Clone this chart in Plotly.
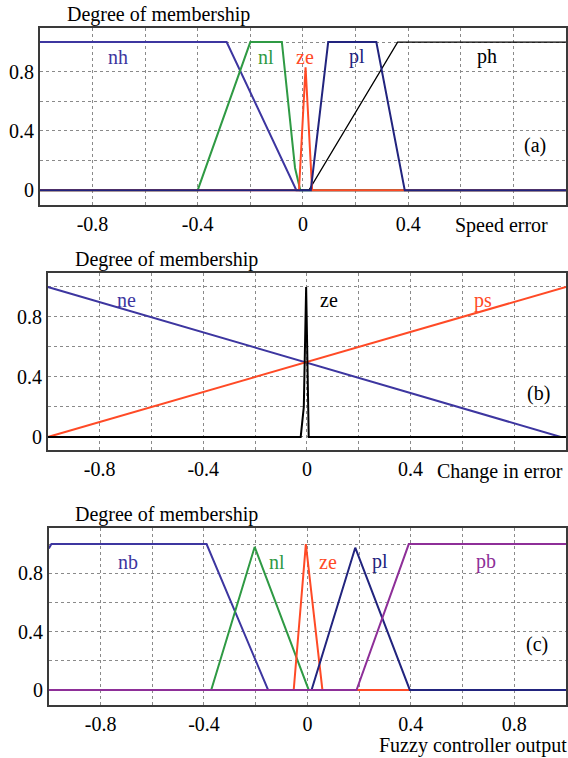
import plotly.graph_objects as go

# ---- (a) Speed error membership functions ----
a_nh_x = [-1.0, -0.29, -0.025, 1.0]
a_nh_y = [1.0, 1.0, 0.0, 0.0]
a_nl_x = [-1.0, -0.4, -0.2, -0.08, -0.03, -0.01, 1.0]
a_nl_y = [0.0, 0.0, 1.0, 1.0, 0.15, 0.0, 0.0]
a_ph_x = [-1.0, 0.023, 0.36, 1.0]
a_ph_y = [0.0, 0.0, 1.0, 1.0]
a_ze_x = [-1.0, -0.015, 0.01, 0.035, 1.0]
a_ze_y = [0.0, 0.0, 0.83, 0.0, 0.0]
a_pl_x = [-1.0, 0.03, 0.096, 0.279, 0.387, 1.0]
a_pl_y = [0.0, 0.0, 1.0, 1.0, 0.0, 0.0]

# ---- (b) Change in error membership functions ----
b_ne_x = [-1.0, 0.98, 1.0]
b_ne_y = [1.0, 0.0, 0.0]
b_ps_x = [-1.0, 1.0]
b_ps_y = [0.0, 1.0]
b_ze_x = [-1.0, -0.024, -0.012, -0.003, 0.007, 1.0]
b_ze_y = [0.0, 0.0, 0.2, 1.0, 0.0, 0.0]

# ---- (c) Fuzzy controller output membership functions ----
c_nb_x = [-1.0, -0.99, -0.39, -0.152, 1.0]
c_nb_y = [0.97, 1.0, 1.0, 0.0, 0.0]
c_nl_x = [-1.0, -0.372, -0.204, 0.005, 1.0]
c_nl_y = [0.0, 0.0, 0.98, 0.0, 0.0]
c_ze_x = [-1.0, -0.053, -0.006, 0.058, 1.0]
c_ze_y = [0.0, 0.0, 1.0, 0.0, 0.0]
c_pl_x = [-1.0, 0.016, 0.185, 0.396, 1.0]
c_pl_y = [0.0, 0.0, 0.975, 0.0, 0.0]
c_pb_x = [-1.0, 0.19, 0.392, 1.0]
c_pb_y = [0.0, 0.0, 1.0, 1.0]

x_ticks_ab = [-0.8, -0.4, 0, 0.4]
x_ticks_c = [-0.8, -0.4, 0, 0.4, 0.8]
x_ticktext_ab = ["-0.8", "-0.4", "0", "0.4"]
x_ticktext_c = ["-0.8", "-0.4", "0", "0.4", "0.8"]
y_ticks = [0, 0.4, 0.8]
y_ticktext = ["0", "0.4", "0.8"]

INDIGO = "#3d36a0"
NAVY = "#22247e"
GREEN = "#2f9a44"
RED = "#ff4a26"
PURPLE = "#8e2f98"
BLACK = "#000000"
FONT = "Liberation Serif, Times New Roman, serif"

W, H = 568, 758

fig = go.Figure()


def add(x, y, color, width, axis):
    fig.add_trace(go.Scatter(x=x, y=y, mode="lines", xaxis="x" + axis, yaxis="y" + axis,
                             line=dict(color=color, width=width), showlegend=False,
                             hoverinfo="skip"))


add(a_nh_x, a_nh_y, INDIGO, 2, "")
add(a_nl_x, a_nl_y, GREEN, 2, "")
add(a_ph_x, a_ph_y, BLACK, 1.3, "")
add(a_ze_x, a_ze_y, RED, 2, "")
add(a_pl_x, a_pl_y, NAVY, 2, "")

add(b_ne_x, b_ne_y, INDIGO, 2, "2")
add(b_ps_x, b_ps_y, RED, 2, "2")
add(b_ze_x, b_ze_y, BLACK, 2, "2")

add(c_nb_x, c_nb_y, INDIGO, 2, "3")
add(c_nl_x, c_nl_y, GREEN, 2, "3")
add(c_ze_x, c_ze_y, RED, 2, "3")
add(c_pl_x, c_pl_y, NAVY, 2, "3")
add(c_pb_x, c_pb_y, PURPLE, 2, "3")

grid = dict(showgrid=True, gridcolor="#8a8a8a", gridwidth=1, griddash="dot")
minor = dict(dtick=0.2, tick0=0, showgrid=True, gridcolor="#8a8a8a", gridwidth=1, griddash="dot")
tickfont = dict(family=FONT, size=20, color="black")


def xaxis(left_px, anchor, tickvals, ticktext):
    return dict(domain=[left_px / W, 1.0], range=[-1.0, 1.0], anchor=anchor,
                tickmode="array", tickvals=tickvals, ticktext=ticktext,
                tickfont=tickfont, ticks="", showline=True, linecolor="#3a3a3a",
                linewidth=1.5, mirror=True, zeroline=False, minor=minor, **grid)


def yaxis(top_px, bot_px, rng, anchor):
    return dict(domain=[1 - bot_px / H, 1 - top_px / H], range=rng, anchor=anchor,
                tickmode="array", tickvals=y_ticks, ticktext=y_ticktext,
                tickfont=tickfont, ticks="", showline=True, linecolor="#3a3a3a",
                linewidth=1.5, mirror=True, zeroline=False, minor=minor, **grid)


fig.update_layout(
    width=W, height=H, margin=dict(l=0, r=0, t=0, b=0),
    paper_bgcolor="white", plot_bgcolor="white",
    font=dict(family=FONT, color="black"),
    xaxis=xaxis(40, "y", x_ticks_ab, x_ticktext_ab),
    yaxis=yaxis(28, 205, [-0.1, 1.095], "x"),
    xaxis2=xaxis(48, "y2", x_ticks_ab, x_ticktext_ab),
    yaxis2=yaxis(273, 450, [-0.087, 1.093], "x2"),
    xaxis3=xaxis(49, "y3", x_ticks_c, x_ticktext_c),
    yaxis3=yaxis(528, 705, [-0.103, 1.11], "x3"),
)


def label(text, x, y, color, axis, size=20):
    fig.add_annotation(text=text, x=x, y=y, xref="x" + axis, yref="y" + axis,
                       showarrow=False, font=dict(family=FONT, size=size, color=color))


label("nh", -0.704, 0.9, INDIGO, "")
label("nl", -0.14, 0.9, GREEN, "")
label("ze", 0.008, 0.9, RED, "")
label("pl", 0.205, 0.9, NAVY, "")
label("ph", 0.70, 0.9, BLACK, "")
label("(a)", 0.883, 0.30, BLACK, "")

label("ne", -0.695, 0.91, INDIGO, "2")
label("ze", 0.084, 0.91, BLACK, "2")
label("ps", 0.68, 0.91, RED, "2")
label("(b)", 0.893, 0.29, BLACK, "2")

label("nb", -0.695, 0.88, INDIGO, "3")
label("nl", -0.118, 0.88, GREEN, "3")
label("ze", 0.078, 0.88, RED, "3")
label("pl", 0.28, 0.88, NAVY, "3")
label("pb", 0.69, 0.88, PURPLE, "3")
label("(c)", 0.887, 0.31, BLACK, "3")


def paper_text(text, x_px, y_px, anchor="left"):
    fig.add_annotation(text=text, x=x_px / W, y=1 - y_px / H, xref="paper", yref="paper",
                       xanchor=anchor, yanchor="middle", showarrow=False,
                       font=dict(family=FONT, size=20, color="black"))


paper_text("Degree of membership", 65, 14)
paper_text("Degree of membership", 73, 259)
paper_text("Degree of membership", 73, 514)
paper_text("Speed error", 455, 225)
paper_text("Change in error", 437, 471)
paper_text("Fuzzy controller output", 378, 745)

fig.write_html("out.html")
